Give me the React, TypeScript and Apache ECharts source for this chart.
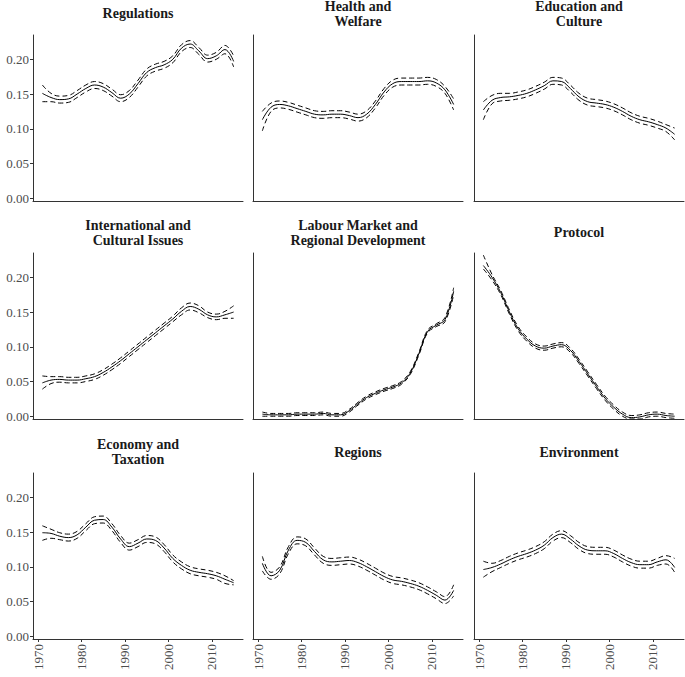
import React, { useEffect, useRef } from "react";
import * as echarts from "echarts";

const years = [1971, 1973, 1975, 1977, 1979, 1981, 1983, 1985, 1987, 1989, 1991, 1993, 1995, 1997, 1999, 2001, 2003, 2005, 2007, 2009, 2011, 2013, 2015];
const xTicks = [1970, 1980, 1990, 2000, 2010];
const yTicks = [0, 0.05, 0.1, 0.15, 0.2];

const panelTitles = [
  "Regulations",
  "Health and\nWelfare",
  "Education and\nCulture",
  "International and\nCultural Issues",
  "Labour Market and\nRegional Development",
  "Protocol",
  "Economy and\nTaxation",
  "Regions",
  "Environment",
];

const regulationsMean = [0.151, 0.145, 0.142, 0.143, 0.150, 0.158, 0.163, 0.160, 0.152, 0.144, 0.150, 0.165, 0.181, 0.188, 0.192, 0.200, 0.216, 0.222, 0.212, 0.201, 0.205, 0.214, 0.197];
const regulationsUpper = [0.163, 0.151, 0.147, 0.148, 0.155, 0.163, 0.168, 0.165, 0.157, 0.149, 0.155, 0.170, 0.186, 0.193, 0.197, 0.205, 0.221, 0.227, 0.217, 0.206, 0.210, 0.220, 0.205];
const regulationsLower = [0.139, 0.139, 0.137, 0.138, 0.145, 0.153, 0.158, 0.155, 0.147, 0.139, 0.145, 0.160, 0.176, 0.183, 0.187, 0.195, 0.211, 0.217, 0.207, 0.196, 0.200, 0.208, 0.189];

const healthMean = [0.113, 0.131, 0.135, 0.133, 0.129, 0.125, 0.121, 0.120, 0.121, 0.121, 0.119, 0.116, 0.121, 0.135, 0.153, 0.165, 0.168, 0.168, 0.168, 0.169, 0.166, 0.156, 0.135];
const healthUpper = [0.125, 0.137, 0.140, 0.138, 0.134, 0.130, 0.126, 0.125, 0.126, 0.126, 0.124, 0.121, 0.126, 0.140, 0.158, 0.170, 0.173, 0.173, 0.173, 0.174, 0.171, 0.161, 0.143];
const healthLower = [0.097, 0.125, 0.130, 0.128, 0.124, 0.120, 0.116, 0.115, 0.116, 0.116, 0.114, 0.111, 0.116, 0.130, 0.148, 0.160, 0.163, 0.163, 0.163, 0.164, 0.161, 0.151, 0.127];

const educationMean = [0.127, 0.141, 0.145, 0.146, 0.148, 0.151, 0.156, 0.162, 0.169, 0.168, 0.158, 0.146, 0.139, 0.137, 0.135, 0.131, 0.125, 0.118, 0.113, 0.110, 0.106, 0.101, 0.092];
const educationUpper = [0.139, 0.148, 0.151, 0.151, 0.153, 0.156, 0.161, 0.167, 0.174, 0.173, 0.163, 0.151, 0.144, 0.142, 0.140, 0.136, 0.130, 0.123, 0.118, 0.115, 0.111, 0.106, 0.101];
const educationLower = [0.113, 0.136, 0.140, 0.141, 0.143, 0.146, 0.151, 0.157, 0.164, 0.163, 0.153, 0.141, 0.134, 0.132, 0.130, 0.126, 0.120, 0.113, 0.108, 0.105, 0.101, 0.096, 0.084];

const internationalMean = [0.048, 0.052, 0.053, 0.052, 0.052, 0.054, 0.057, 0.063, 0.071, 0.080, 0.090, 0.100, 0.110, 0.120, 0.130, 0.140, 0.151, 0.158, 0.154, 0.146, 0.143, 0.146, 0.150];
const internationalUpper = [0.058, 0.057, 0.057, 0.056, 0.056, 0.058, 0.061, 0.067, 0.075, 0.084, 0.094, 0.104, 0.114, 0.124, 0.134, 0.144, 0.156, 0.163, 0.159, 0.150, 0.147, 0.151, 0.159];
const internationalLower = [0.039, 0.047, 0.049, 0.048, 0.048, 0.050, 0.053, 0.059, 0.067, 0.076, 0.086, 0.096, 0.106, 0.116, 0.126, 0.136, 0.146, 0.153, 0.149, 0.142, 0.139, 0.141, 0.141];

const labourMean = [0.003, 0.002, 0.002, 0.002, 0.003, 0.003, 0.003, 0.004, 0.002, 0.002, 0.008, 0.018, 0.027, 0.033, 0.038, 0.042, 0.048, 0.062, 0.090, 0.122, 0.131, 0.139, 0.180];
const labourUpper = [0.006, 0.004, 0.004, 0.004, 0.005, 0.005, 0.005, 0.006, 0.004, 0.004, 0.010, 0.020, 0.029, 0.035, 0.040, 0.044, 0.050, 0.064, 0.092, 0.124, 0.133, 0.142, 0.185];
const labourLower = [0.000, 0.000, 0.000, 0.000, 0.001, 0.001, 0.001, 0.002, 0.000, 0.000, 0.006, 0.016, 0.025, 0.031, 0.036, 0.040, 0.046, 0.060, 0.088, 0.120, 0.129, 0.136, 0.175];

const protocolMean = [0.217, 0.200, 0.178, 0.150, 0.126, 0.111, 0.101, 0.098, 0.101, 0.103, 0.095, 0.079, 0.061, 0.043, 0.026, 0.013, 0.003, -0.002, -0.001, 0.002, 0.003, 0.001, 0.000];
const protocolUpper = [0.232, 0.204, 0.181, 0.153, 0.129, 0.114, 0.104, 0.101, 0.104, 0.106, 0.098, 0.082, 0.064, 0.046, 0.029, 0.016, 0.006, 0.001, 0.002, 0.005, 0.006, 0.004, 0.003];
const protocolLower = [0.212, 0.196, 0.175, 0.147, 0.123, 0.108, 0.098, 0.095, 0.098, 0.100, 0.092, 0.076, 0.058, 0.040, 0.023, 0.010, 0.000, -0.004, -0.004, -0.001, 0.000, -0.002, -0.003];

const economyMean = [0.149, 0.148, 0.144, 0.142, 0.146, 0.157, 0.167, 0.168, 0.157, 0.140, 0.129, 0.134, 0.140, 0.138, 0.127, 0.112, 0.102, 0.095, 0.092, 0.090, 0.087, 0.082, 0.077];
const economyUpper = [0.159, 0.154, 0.149, 0.147, 0.151, 0.162, 0.172, 0.173, 0.162, 0.145, 0.134, 0.139, 0.145, 0.143, 0.132, 0.117, 0.107, 0.100, 0.097, 0.095, 0.092, 0.087, 0.080];
const economyLower = [0.138, 0.141, 0.139, 0.137, 0.141, 0.152, 0.162, 0.163, 0.152, 0.135, 0.124, 0.129, 0.135, 0.133, 0.122, 0.107, 0.097, 0.090, 0.087, 0.085, 0.082, 0.076, 0.074];

const regionsMean = [0.105, 0.087, 0.095, 0.124, 0.138, 0.135, 0.122, 0.110, 0.107, 0.108, 0.109, 0.106, 0.100, 0.093, 0.086, 0.081, 0.079, 0.076, 0.072, 0.066, 0.059, 0.052, 0.066];
const regionsUpper = [0.115, 0.092, 0.100, 0.129, 0.143, 0.140, 0.127, 0.115, 0.112, 0.113, 0.114, 0.111, 0.105, 0.098, 0.091, 0.086, 0.084, 0.081, 0.077, 0.071, 0.064, 0.057, 0.074];
const regionsLower = [0.094, 0.082, 0.090, 0.119, 0.133, 0.130, 0.117, 0.105, 0.102, 0.103, 0.104, 0.101, 0.095, 0.088, 0.081, 0.076, 0.074, 0.071, 0.067, 0.061, 0.054, 0.047, 0.058];

const environmentMean = [0.096, 0.099, 0.104, 0.110, 0.115, 0.119, 0.124, 0.131, 0.142, 0.147, 0.140, 0.130, 0.124, 0.123, 0.123, 0.119, 0.112, 0.106, 0.103, 0.103, 0.107, 0.110, 0.099];
const environmentUpper = [0.108, 0.105, 0.109, 0.115, 0.120, 0.124, 0.129, 0.136, 0.147, 0.152, 0.145, 0.135, 0.129, 0.128, 0.128, 0.124, 0.117, 0.111, 0.108, 0.108, 0.112, 0.116, 0.112];
const environmentLower = [0.085, 0.093, 0.099, 0.105, 0.110, 0.114, 0.119, 0.126, 0.137, 0.142, 0.135, 0.125, 0.119, 0.118, 0.118, 0.114, 0.107, 0.101, 0.098, 0.098, 0.102, 0.104, 0.092];

const panelMeans = [regulationsMean, healthMean, educationMean, internationalMean, labourMean, protocolMean, economyMean, regionsMean, environmentMean];
const panelUppers = [regulationsUpper, healthUpper, educationUpper, internationalUpper, labourUpper, protocolUpper, economyUpper, regionsUpper, environmentUpper];
const panelLowers = [regulationsLower, healthLower, educationLower, internationalLower, labourLower, protocolLower, economyLower, regionsLower, environmentLower];

const FONT = "'Liberation Serif', 'Times New Roman', serif";

export default function App() {
  const ref = useRef<HTMLDivElement>(null);
  useEffect(() => {
    if (!ref.current) return;
    const chart = echarts.init(ref.current, undefined, { renderer: "svg" });
    const colLeft = [33, 253, 474];
    const rowTop = [35, 253, 473];
    const W = 210;
    const H = 166;
    const titleY = [13.5, 232.5, 452];

    const grids: any[] = [];
    const xAxes: any[] = [];
    const yAxes: any[] = [];
    const series: any[] = [];
    const graphics: any[] = [];

    for (let i = 0; i < 9; i++) {
      const row = Math.floor(i / 3);
      const col = i % 3;
      grids.push({ left: colLeft[col], top: rowTop[row], width: W, height: H, containLabel: false });
      xAxes.push({
        type: "value",
        gridIndex: i,
        min: 1968.85,
        max: 2017.15,
        axisLine: { show: true, onZero: false, lineStyle: { color: "#333", width: 1 } },
        axisTick: { show: row === 2, customValues: xTicks, length: 3, lineStyle: { color: "#333" } },
        axisLabel: {
          show: row === 2,
          customValues: xTicks,
          rotate: 90,
          margin: 5,
          fontFamily: FONT,
          fontSize: 13,
          color: "#4d4d4d",
          formatter: (v: number) => String(v),
        },
        splitLine: { show: false },
      });
      yAxes.push({
        type: "value",
        gridIndex: i,
        min: -0.004,
        max: 0.235,
        axisLine: { show: true, onZero: false, lineStyle: { color: "#333", width: 1 } },
        axisTick: { show: col === 0, customValues: yTicks, length: 3, lineStyle: { color: "#333" } },
        axisLabel: {
          show: col === 0,
          customValues: yTicks,
          margin: 4,
          fontFamily: FONT,
          fontSize: 13,
          color: "#4d4d4d",
          formatter: (v: number) => v.toFixed(2),
        },
        splitLine: { show: false },
      });
      const mk = (arr: number[]) => years.map((y, k) => [y, arr[k]]);
      const base = {
        type: "line",
        xAxisIndex: i,
        yAxisIndex: i,
        showSymbol: false,
        symbol: "none",
        smooth: 0.4,
        silent: true,
      };
      series.push({ ...base, data: mk(panelUppers[i]), lineStyle: { color: "#000", width: 1, type: [5, 3] } });
      series.push({ ...base, data: mk(panelLowers[i]), lineStyle: { color: "#000", width: 1, type: [5, 3] } });
      series.push({ ...base, data: mk(panelMeans[i]), lineStyle: { color: "#000", width: 1, type: "solid" } });

      graphics.push({
        type: "text",
        x: colLeft[col] + W / 2,
        y: titleY[row],
        style: {
          text: panelTitles[i],
          textAlign: "center",
          textVerticalAlign: "middle",
          font: `bold 14px ${FONT}`,
          lineHeight: 15,
          fill: "#1a1a1a",
        },
      });
    }

    chart.setOption({
      animation: false,
      backgroundColor: "#fff",
      grid: grids,
      xAxis: xAxes,
      yAxis: yAxes,
      series,
      graphic: graphics,
    });
    return () => chart.dispose();
  }, []);
  return <div ref={ref} style={{ position: "absolute", left: 0, top: 0, width: 685, height: 677 }} />;
}
